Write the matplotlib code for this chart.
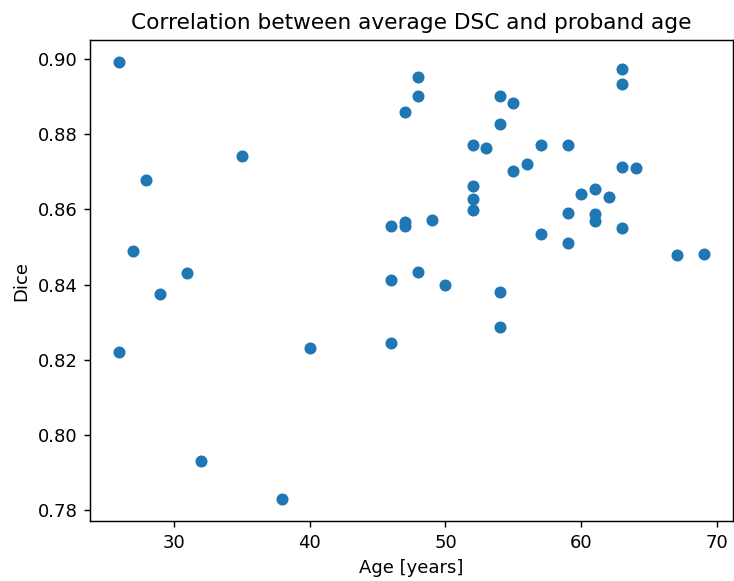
import matplotlib
matplotlib.use("Agg")
import matplotlib.pyplot as plt

# proband age (years) and average DSC per proband
age = [26, 28, 27, 31, 29, 26, 35, 32, 38, 40,
       46, 46, 46, 47, 47, 47, 48, 48, 48, 49,
       50, 52, 52, 52, 52, 53, 54, 54, 54, 54,
       55, 55, 56, 57, 57, 59, 59, 59, 60, 61,
       61, 61, 62, 63, 63, 63, 63, 64, 67, 69]
dice = [0.8992, 0.8677, 0.8489, 0.8430, 0.8375, 0.8221, 0.8743, 0.7932, 0.7830, 0.8231,
        0.8557, 0.8412, 0.8246, 0.8860, 0.8566, 0.8555, 0.8953, 0.8902, 0.8434, 0.8572,
        0.8399, 0.8772, 0.8663, 0.8628, 0.8598, 0.8762, 0.8828, 0.8902, 0.8380, 0.8287,
        0.8882, 0.8702, 0.8722, 0.8770, 0.8535, 0.8772, 0.8590, 0.8511, 0.8642, 0.8653,
        0.8589, 0.8568, 0.8632, 0.8972, 0.8934, 0.8714, 0.8550, 0.8709, 0.8479, 0.8482]

DPI = 130
fig, ax = plt.subplots(figsize=(734 / DPI, 581 / DPI), dpi=DPI)
fig.subplots_adjust(left=0.1226, right=0.9986, top=0.931, bottom=0.1033)

ax.scatter(age, dice, s=32, color="#1f77b4")
ax.set_title("Correlation between average DSC and proband age")
ax.set_xlabel("Age [years]")
ax.set_ylabel("Dice")

fig.savefig("out.png", dpi=DPI)
